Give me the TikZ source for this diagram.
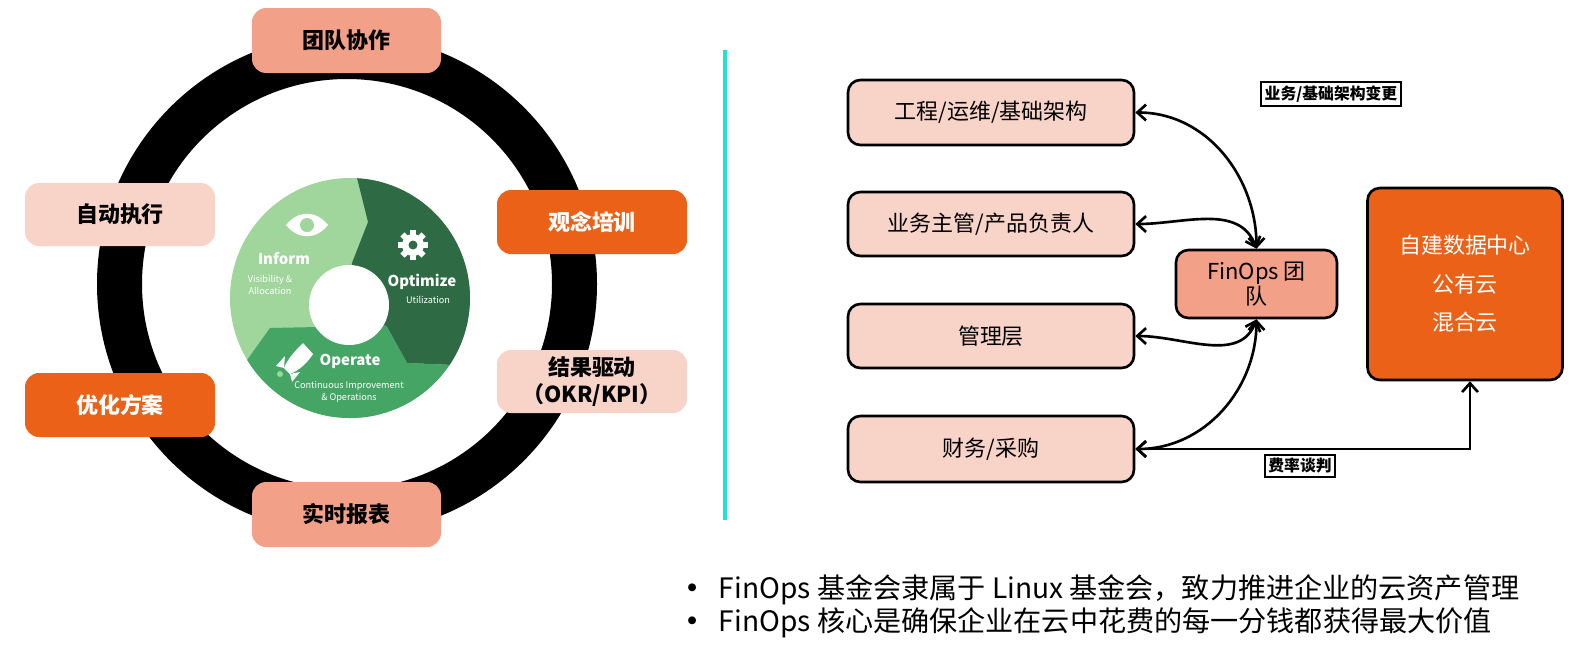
\documentclass[tikz,border=0pt]{standalone}
\usepackage{fontspec}
\setmainfont{Noto Sans CJK SC}
\usetikzlibrary{arrows.meta}
\definecolor{salmon}{HTML}{F2A088}
\definecolor{pale}{HTML}{F8D3C8}
\definecolor{orng}{HTML}{EA6117}
\definecolor{lg}{HTML}{A0D59B}
\definecolor{dg}{HTML}{2E6B45}
\definecolor{mg}{HTML}{44A565}
\definecolor{cyanl}{HTML}{1DE5D0}
\begin{document}
\begin{tikzpicture}[x=0.02cm,y=-0.02cm,
  lt/.style={font=\fontsize{12.5}{15}\selectfont\bfseries,align=center},
  rbox/.style={draw=black,line width=1.5pt,rounded corners=7pt,fill=pale,inner sep=0pt,font=\fontsize{12.5}{15}\selectfont,align=center},
  tagbox/.style={draw=black,line width=1pt,fill=white,inner sep=2pt,font=\fontsize{9}{11}\selectfont\bfseries},
  con/.style={line width=1.5pt,{Straight Barb[length=5pt,width=9pt]}-{Straight Barb[length=5pt,width=9pt]}},
  gt/.style={text=white,font=\fontsize{8.5}{9}\selectfont\bfseries},
  gs/.style={text=white,font=\fontsize{5.2}{6.5}\selectfont,align=center}]
\path[use as bounding box] (0,0) rectangle (1586,664);
% ring
\fill[black,even odd rule] (347,284) circle (250) (347,284) circle (205);
% green disc
\begin{scope}
\clip (350,298) circle (120);
\fill[lg] (350,298) circle (120);
\fill[dg] (350,150)--(368,222)--(352,263)--(350,298)--(387,327)--(407,363)--(453,365)--(500,400)--(500,150)--cycle;
\fill[mg] (350,298)--(317,327)--(270,328)--(245,363)--(200,430)--(500,430)--(500,400)--(453,365)--(407,363)--(387,327)--cycle;
\end{scope}
\fill[white] (349,305) circle (40);
% icons
\fill[white] (286,225) .. controls (298,210) and (316,210) .. (328,225) .. controls (316,240) and (298,240) .. (286,225)--cycle;
\fill[lg] (307,225) circle (7);
\fill[white] (413,245) circle (11);
\foreach \a in {0,45,...,315}{\fill[white,rotate around={\a:(413,245)}] (410,230) rectangle (416,236);}
\fill[dg] (413,245) circle (4.5);
\fill[white] (303,343) .. controls (296,350) and (288,358) .. (284,368) -- (290,374) .. controls (300,370) and (308,362) .. (313,354) -- cycle;
\fill[white] (284,368)--(276,366)--(285,356)--cycle;
\fill[white] (290,374)--(292,382)--(300,372)--cycle;
\fill[lg] (280,374) circle (3);
\node[gt] (inf) at (284,259) {Inform};
\node[gs] (infs) at (270,285) {Visibility \&\\Allocation};
\node[gt] (opt) at (422,282) {Optimize};
\node[gs] (opts) at (428,300) {Utilization};
\node[gt] (ope) at (350,361) {Operate};
\node[gs] (opes) at (349,392) {Continuous Improvement\\\& Operations};
% left boxes
\fill[salmon,rounded corners=8pt] (252,8) rectangle (441,73);
\node[lt] (a1) at (346.5,40.5) {团队协作};
\fill[pale,rounded corners=8pt] (25,183) rectangle (215,246);
\node[lt] (a2) at (120,214.5) {自动执行};
\fill[orng,rounded corners=8pt] (497,190) rectangle (687,254);
\node[lt,text=white] (a3) at (592,222) {观念培训};
\fill[pale,rounded corners=8pt] (497,350) rectangle (687,413);
\node[lt] (a4) at (592,381.5) {结果驱动\\（OKR/KPI）};
\fill[orng,rounded corners=8pt] (25,373) rectangle (215,437);
\node[lt,text=white] (a5) at (120,405) {优化方案};
\fill[salmon,rounded corners=8pt] (252,482) rectangle (441,547);
\node[lt] (a6) at (346.5,514.5) {实时报表};
% divider
\draw[cyanl,line width=2pt] (725,50) coordinate (d1) -- (725,520) coordinate (d2);
% right diagram
\node[rbox,minimum width=5.72cm,minimum height=1.3cm] (b1) at (991,112.5) {工程/运维/基础架构};
\node[rbox,minimum width=5.72cm,minimum height=1.28cm] (b2) at (991,224) {业务主管/产品负责人};
\node[rbox,minimum width=5.72cm,minimum height=1.28cm] (b3) at (991,336) {管理层};
\node[rbox,minimum width=5.72cm,minimum height=1.32cm] (b4) at (991,449) {财务/采购};
\node[rbox,fill=salmon,minimum width=3.22cm,minimum height=1.36cm,font=\fontsize{12.5}{14}\selectfont] (f) at (1256.5,284) {FinOps 团\\队};
\node[draw=black,line width=1.5pt,rounded corners=7pt,fill=orng,minimum width=3.9cm,minimum height=3.84cm,text=white,align=center,font=\fontsize{12.5}{22}\selectfont] (c) at (1465,284) {自建数据中心\\公有云\\混合云};
\node[tagbox] (l1) at (1331,94) {业务/基础架构变更};
\node[tagbox] (l2) at (1300,466) {费率谈判};
\draw[con] (b1.east) to[out=0,in=90] (f.north);
\draw[con] (b2.east) to[out=0,in=110] (f.north);
\draw[con] (b3.east) to[out=0,in=-110] (f.south);
\draw[con] (b4.east) to[out=0,in=-90] (f.south);
\coordinate (cb) at (1470,380);
\draw[con] (b4.east) -- (b4.east -| cb) -- (c.south -| cb);
% bullets
\node[anchor=west,font=\fontsize{16}{19}\selectfont] (p1) at (672,590) {\textbf{•}\ \ FinOps 基金会隶属于 Linux 基金会，致力推进企业的云资产管理};
\node[anchor=west,font=\fontsize{16}{19}\selectfont] (p2) at (672,623) {\textbf{•}\ \ FinOps 核心是确保企业在云中花费的每一分钱都获得最大价值};
\end{tikzpicture}
\end{document}
